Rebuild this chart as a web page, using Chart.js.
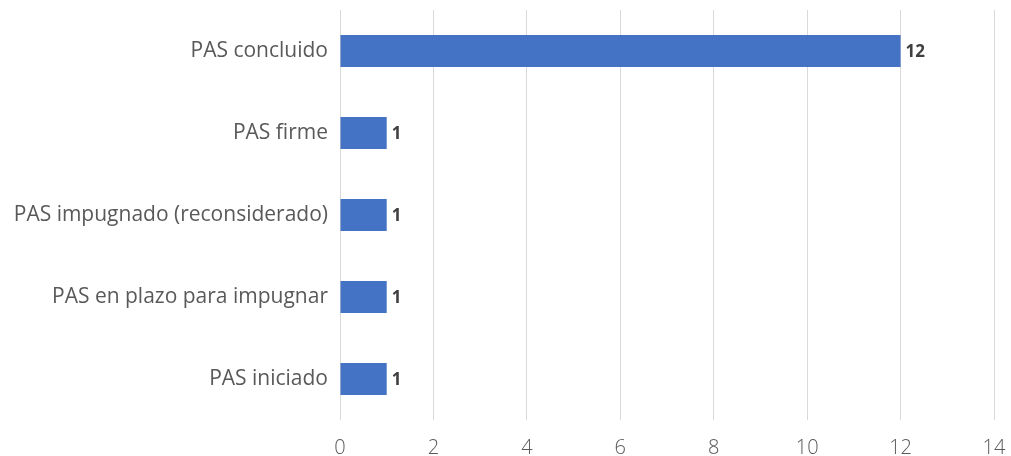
<!DOCTYPE html>
<html>
<head>
<meta charset="utf-8">
<script src="https://cdn.jsdelivr.net/npm/chart.js@4/dist/chart.umd.min.js"></script>
<style>
  html, body { margin: 0; padding: 0; background: #fff; }
  #wrap { width: 1011px; height: 456px; }
</style>
</head>
<body>
<div id="wrap"><canvas id="chart" width="1011" height="456"></canvas></div>
<script>
const categories = ['PAS concluido', 'PAS firme', 'PAS impugnado (reconsiderado)', 'PAS en plazo para impugnar', 'PAS iniciado'];
const values = [12, 1, 1, 1, 1];
const xTicks = [0, 2, 4, 6, 8, 10, 12, 14];

// etiquetas de valor al final de cada barra
const valueLabels = {
    id: 'valueLabels',
    afterDatasetsDraw(chart) {
        const ctx = chart.ctx;
        const meta = chart.getDatasetMeta(0);
        ctx.save();
        ctx.font = 'bold 17px "Open Sans", sans-serif';
        ctx.fillStyle = '#404040';
        ctx.textBaseline = 'middle';
        meta.data.forEach((bar, i) => {
            ctx.fillText(String(values[i]), bar.x + 5, bar.y + 1);
        });
        ctx.restore();
    }
};

new Chart(document.getElementById('chart').getContext('2d'), {
    type: 'bar',
    data: {
        labels: categories,
        datasets: [{
            data: values,
            backgroundColor: '#4472C4',
            borderWidth: 0,
            categoryPercentage: 1,
            barPercentage: 0.39
        }]
    },
    options: {
        indexAxis: 'y',
        responsive: false,
        animation: false,
        layout: { padding: { top: 10, right: 17, left: 0, bottom: 0 } },
        plugins: {
            legend: { display: false },
            tooltip: { enabled: false }
        },
        scales: {
            x: {
                min: 0,
                max: 14,
                afterBuildTicks: axis => { axis.ticks = xTicks.map(v => ({ value: v })); },
                afterFit: axis => {
                    axis.height = 36;
                    axis.paddingLeft = 0;
                    axis.paddingRight = 0;
                },
                grid: { color: '#d9d9d9', lineWidth: 1, drawTicks: false },
                border: { display: false },
                ticks: {
                    color: '#595959',
                    padding: 16,
                    font: { family: 'Open Sans', size: 20, weight: '300' }
                }
            },
            y: {
                afterFit: axis => {
                    axis.width = 340;
                    axis.paddingTop = 0;
                    axis.paddingBottom = 0;
                },
                grid: { display: false, drawTicks: false },
                border: { display: false },
                ticks: {
                    color: '#595959',
                    padding: 12,
                    font: { family: 'Open Sans', size: 21 }
                }
            }
        }
    },
    plugins: [valueLabels]
});
</script>
</body>
</html>
